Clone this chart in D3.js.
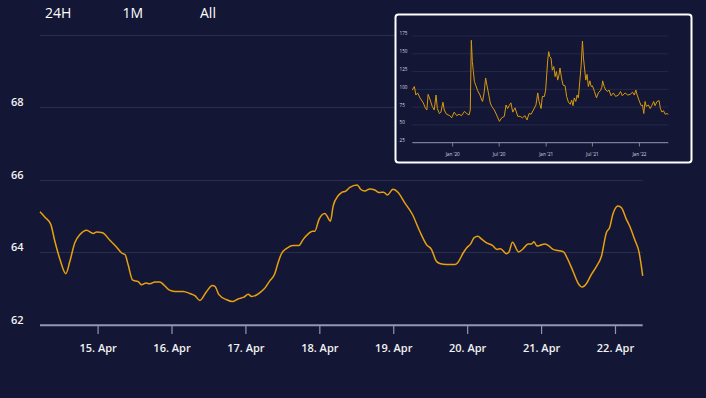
<!DOCTYPE html>
<html><head><meta charset="utf-8">
<script src="https://cdn.jsdelivr.net/npm/d3@7"></script>
<style>
html,body{margin:0;padding:0;background:#131735;}
svg{display:block;font-family:"Open Sans",sans-serif;}
</style></head><body>
<svg id="chart" width="706" height="398"></svg>
<script>
// ---- data ----
const rangeButtons = ["24H", "1M", "All"];

// hours since 2022-04-15 00:00 UTC
const mainHours = [-18.7,-17.1,-15.2,-13.9,-12.2,-10.3,-9.0,-7.4,-5.7,-3.6,-1.4,-0.3,1.6,4.0,6.2,7.8,8.9,9.9,11.4,13.2,14.3,15.7,17.0,18.6,20.2,21.5,23.2,25.1,27.8,30.0,31.6,33.2,35.4,37.3,38.1,39.4,41.9,43.8,45.6,47.5,48.9,50.0,51.6,53.2,54.3,55.9,57.5,58.6,59.7,61.3,63.5,65.4,66.7,68.4,69.8,70.5,71.9,73.8,74.5,75.6,76.5,78.1,79.2,80.6,81.9,84.3,85.4,86.8,88.4,90.0,91.4,92.9,94.1,95.9,97.6,99.7,102.2,104.6,106.8,108.4,110.0,111.1,113.3,116.0,117.0,118.7,119.8,121.2,122.2,123.5,124.6,126.3,128.2,129.7,130.8,132.8,133.6,134.7,136.7,138.1,139.8,140.9,141.7,142.7,143.6,145.2,146.3,147.9,149.5,151.3,152.2,154.4,156.0,157.4,158.7,160.3,162.0,163.6,165.2,166.3,167.3,169.0,170.1,171.7,172.8,174.4,175.8,177.0];
const mainValues = [65.12,64.97,64.77,64.31,63.80,63.41,63.75,64.26,64.49,64.61,64.52,64.56,64.54,64.33,64.14,63.98,63.94,63.66,63.23,63.19,63.10,63.15,63.13,63.18,63.18,63.10,62.96,62.92,62.92,62.86,62.80,62.67,62.92,63.08,63.06,62.83,62.69,62.64,62.71,62.76,62.84,62.78,62.82,62.92,63.01,63.21,63.40,63.71,63.96,64.10,64.19,64.19,64.35,64.51,64.58,64.58,64.91,65.07,65.00,64.86,65.28,65.56,65.65,65.69,65.79,65.86,65.74,65.69,65.75,65.72,65.65,65.66,65.58,65.74,65.65,65.37,65.05,64.58,64.21,64.08,63.75,63.69,63.66,63.66,63.72,63.98,64.12,64.24,64.40,64.44,64.37,64.26,64.19,64.08,64.10,63.96,64.01,64.28,64.01,64.09,64.23,64.23,64.29,64.17,64.19,64.23,64.19,64.08,64.05,64.01,63.89,63.47,63.15,63.04,63.13,63.38,63.61,63.89,64.54,64.69,65.05,65.28,65.23,64.91,64.72,64.35,64.01,63.35];
const mainYTicks = [62, 64, 66, 68, 70];
const mainYLabels = ["62", "64", "66", "68", ""];
const mainXTickDays = [15, 16, 17, 18, 19, 20, 21, 22];

// days since 2020-01-01
const insetDays = [-158,-150,-144,-137,-128,-115,-106,-101,-96,-88,-80,-72,-65,-60,-52,-46,-38,-33,-24,-11,-4,6,16,25,35,46,55,64,69,73,77,81,85,90,98,107,114,117,123,129,134,140,147,153,163,172,183,192,202,209,215,221,228,235,244,255,264,273,283,291,299,307,316,326,333,338,346,351,359,364,368,372,376,380,385,390,396,401,406,411,416,420,426,432,440,446,453,460,466,471,476,482,487,492,497,503,508,512,516,521,526,531,537,542,547,555,563,570,578,584,587,593,599,607,612,620,629,638,649,657,664,675,685,695,704,711,717,722,730,738,743,748,753,758,766,773,779,787,792,800,808,813,819,825,832,839,844];
const insetValues = [99,104,92,95,88,81,73,71,93,85,76,71,92,73,66,68,82,71,65,63,60,68,63,65,63,69,66,64,71,169,139,125,111,106,98,92,85,83,95,116,106,95,81,76,71,64,55,60,62,78,73,77,81,68,74,62,62,60,63,57,66,65,71,78,95,83,73,90,90,99,120,141,153,146,144,127,132,118,125,113,120,130,116,106,105,90,82,79,85,77,88,83,92,88,109,134,168,144,130,113,121,104,112,104,105,97,88,95,98,103,112,104,99,97,99,91,95,90,92,97,91,95,92,93,96,92,99,92,84,77,78,66,83,76,78,73,77,83,77,83,84,73,68,70,65,66,65];
const insetYTicks = [25, 50, 75, 100, 125, 150, 175];
const insetTickDates = ["2020-01-01", "2020-07-01", "2021-01-01", "2021-07-01", "2022-01-01"];
const insetTickLabels = ["Jan '20", "Jul '20", "Jan '21", "Jul '21", "Jan '22"];

// ---- drawing ----
const BG = "#131735", GRID = "#2a2e4d", AXIS = "#9497b0", LINE = "#e8a00e", TXT = "#f2f2f2";
const svg = d3.select("#chart");
svg.append("rect").attr("width", 706).attr("height", 398).attr("fill", BG);

// range buttons
svg.selectAll("text.btn").data(rangeButtons).join("text")
  .attr("class", "btn")
  .attr("x", (d, i) => 45 + i * 77.5).attr("y", 17.5)
  .attr("fill", "#ffffff").attr("font-size", 14).text(d => d);

// main chart
const base = Date.UTC(2022, 3, 15);
const mainData = mainHours.map((h, i) => ({ t: new Date(base + h * 3600e3), v: mainValues[i] }))
  .filter(d => d.v !== undefined);
const x = d3.scaleUtc().domain(d3.extent(mainData, d => d.t)).range([40, 642.7]);
const y = d3.scaleLinear().domain([62, 70]).range([324.7, 35]);

const g = svg.append("g");
g.selectAll("line.grid").data(mainYTicks.slice(1)).join("line")
  .attr("x1", 40).attr("x2", 642.7)
  .attr("y1", d => Math.round(y(d)) + 0.5).attr("y2", d => Math.round(y(d)) + 0.5)
  .attr("stroke", GRID).attr("stroke-width", 1);

g.selectAll("text.ylab").data(mainYTicks).join("text")
  .attr("x", 11).attr("y", d => y(d) - 1)
  .attr("fill", TXT).attr("font-size", 11).attr("font-weight", 600)
  .text((d, i) => mainYLabels[i]);

const tickDates = mainXTickDays.map(dd => new Date(Date.UTC(2022, 3, dd)));
const xAxis = d3.axisBottom(x).tickValues(tickDates).tickSize(9).tickPadding(10)
  .tickFormat(d3.utcFormat("%-d. %b"));
const ax = g.append("g").attr("transform", "translate(0,325)").call(xAxis);
ax.select(".domain").remove();
ax.selectAll(".tick line").attr("stroke", AXIS).attr("stroke-width", 1.2);
ax.selectAll(".tick text").attr("fill", TXT).attr("font-size", 11).attr("font-weight", 600)
  .attr("font-family", "Open Sans");
g.append("line").attr("x1", 40).attr("x2", 642.7).attr("y1", 325.3).attr("y2", 325.3)
  .attr("stroke", AXIS).attr("stroke-width", 2);

g.append("path").datum(mainData)
  .attr("d", d3.line().x(d => x(d.t)).y(d => y(d.v)).curve(d3.curveMonotoneX))
  .attr("fill", "none").attr("stroke", LINE).attr("stroke-width", 1.5);

// inset
const ig = svg.append("g");
ig.append("rect").attr("x", 395.5).attr("y", 14.5).attr("width", 296).attr("height", 148)
  .attr("rx", 3).attr("fill", BG).attr("stroke", "#ffffff").attr("stroke-width", 2);
const ibase = Date.UTC(2020, 0, 1);
const insetData = insetDays.map((d, i) => ({ t: new Date(ibase + d * 864e5), v: insetValues[i] }))
  .filter(d => d.v !== undefined);
const ix = d3.scaleUtc().domain(d3.extent(insetData, d => d.t)).range([412.3, 668.3]);
const iy = d3.scaleLinear().domain([25, 175]).range([142.7, 36]);
ig.selectAll("line.igrid").data(insetYTicks.slice(1)).join("line")
  .attr("x1", 412.3).attr("x2", 668.3)
  .attr("y1", d => iy(d)).attr("y2", d => iy(d))
  .attr("stroke", GRID).attr("stroke-width", 0.8);
ig.selectAll("text.iylab").data(insetYTicks).join("text")
  .attr("x", 399.5).attr("y", d => iy(d) - 0.6)
  .attr("fill", "#d6d7e0").attr("font-size", 4.6).text(d => d);
ig.append("line").attr("x1", 412.3).attr("x2", 668.3).attr("y1", 142.7).attr("y2", 142.7)
  .attr("stroke", AXIS).attr("stroke-width", 1);
const itd = insetTickDates.map(s => new Date(s + "T00:00:00Z"));
ig.selectAll("line.itick").data(itd).join("line")
  .attr("x1", d => ix(d)).attr("x2", d => ix(d)).attr("y1", 142.7).attr("y2", 146.5)
  .attr("stroke", AXIS).attr("stroke-width", 0.8);
ig.selectAll("text.ixlab").data(itd).join("text")
  .attr("x", d => ix(d)).attr("y", 155.5).attr("text-anchor", "middle")
  .attr("fill", "#d6d7e0").attr("font-size", 4.6).text((d, i) => insetTickLabels[i]);
ig.append("path").datum(insetData)
  .attr("d", d3.line().x(d => ix(d.t)).y(d => iy(d.v)))
  .attr("fill", "none").attr("stroke", "#d9980c").attr("stroke-width", 1);
</script>
</body></html>
